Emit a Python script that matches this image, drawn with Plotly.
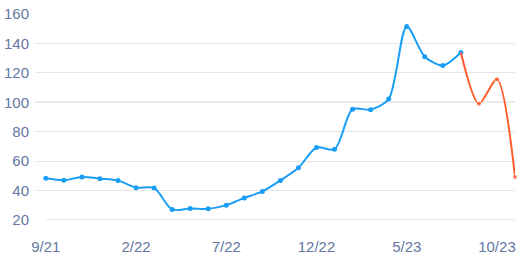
import plotly.graph_objects as go

months = ["9/21","10/21","11/21","12/21","1/22","2/22","3/22","4/22","5/22","6/22","7/22","8/22",
          "9/22","10/22","11/22","12/22","1/23","2/23","3/23","4/23","5/23","6/23","7/23","8/23",
          "9/23","10/23","11/23"]
values = [48.3, 47.0, 49.2, 48.1, 46.8, 42.0, 41.8, 27.1, 27.8, 27.6, 30.1, 35.0,
          39.4, 46.9, 55.5, 69.3, 68.0, 95.3, 95.0, 102.2, 151.5, 131.0, 125.0, 133.8,
          99.0, 115.6, 49.3]
split_index = 23
tick_idx = [0, 5, 10, 15, 20, 25]

xs = list(range(len(values)))
blue = "#1a9ef5"
orange = "#ff5b2b"

fig = go.Figure()
fig.add_trace(go.Scatter(
    x=xs[:split_index + 1], y=values[:split_index + 1], mode="lines+markers",
    line=dict(color=blue, width=2, shape="spline", smoothing=0.8),
    marker=dict(color=blue, size=5), cliponaxis=False, hoverinfo="skip"))
fig.add_trace(go.Scatter(
    x=xs[split_index:], y=values[split_index:], mode="lines+markers",
    line=dict(color=orange, width=2, shape="spline", smoothing=0.8),
    marker=dict(color=orange, size=[0, 5, 5, 5]), cliponaxis=False, hoverinfo="skip"))

fig.add_shape(type="line", xref="paper", x0=0, x1=1, yref="y", y0=100, y1=100,
              line=dict(color="#a9b8cc", width=1), layer="below")
fig.add_shape(type="line", xref="x", x0=0, x1=len(values) - 1, yref="y", y0=20, y1=20,
              line=dict(color="#cccccc", width=1), layer="below")

tick_font = dict(family="Liberation Sans, Arial, sans-serif", size=15, color="#6478a3")
fig.update_layout(
    width=522, height=260, margin=dict(l=35, r=7, t=14, b=40, autoexpand=False),
    paper_bgcolor="white", plot_bgcolor="white", showlegend=False,
    xaxis=dict(range=[-0.6, len(values) - 1], tickmode="array", automargin=False,
               tickvals=[xs[i] for i in tick_idx], ticktext=[months[i] for i in tick_idx],
               showgrid=False, zeroline=False, showline=False, tickfont=tick_font,
               ticks="", ticklabelstandoff=16),
    yaxis=dict(range=[20, 160], tickvals=[20, 40, 60, 80, 100, 120, 140, 160], automargin=False,
               showgrid=True, gridcolor="#e6e6e6", gridwidth=1, zeroline=False,
               showline=False, tickfont=tick_font, ticks="", ticklabelstandoff=5),
)
fig.write_html("out.html")
